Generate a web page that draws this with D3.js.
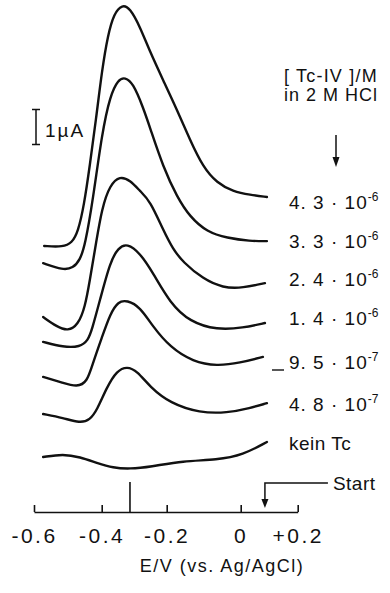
<!DOCTYPE html>
<html>
<head>
<meta charset="utf-8">
<script src="https://cdn.jsdelivr.net/npm/d3@7"></script>
<style>
body { margin: 0; background: #fff; }
text { font-family: "Liberation Sans", Arial, sans-serif; fill: #111; }
</style>
</head>
<body>
<svg width="390" height="593"></svg>
<script>
// differential pulse polarograms, Tc(IV) in 2 M HCl
// each curve: [E in V vs Ag/AgCl, current in uA incl. the vertical offset of the trace]
var curve43 = [[-0.570,7.60],[-0.514,7.57],[-0.488,7.69],[-0.470,8.00],[-0.452,8.77],[-0.435,9.91],
  [-0.417,11.20],[-0.399,12.63],[-0.381,13.63],[-0.362,14.25],[-0.337,14.50],[-0.313,14.40],
  [-0.282,13.86],[-0.251,13.14],[-0.211,12.34],[-0.172,11.49],[-0.137,10.63],[-0.102,9.86],
  [-0.064,9.40],[-0.021,9.16],[0.033,9.06],[0.092,9.00]];
var curve33 = [[-0.573,7.11],[-0.514,6.91],[-0.485,6.97],[-0.464,7.20],[-0.449,7.63],[-0.426,8.91],
  [-0.399,10.83],[-0.374,11.90],[-0.349,12.36],[-0.328,12.42],[-0.304,12.26],[-0.273,11.57],
  [-0.251,10.97],[-0.211,9.86],[-0.172,9.00],[-0.137,8.43],[-0.091,8.00],[-0.037,7.83],
  [0.033,7.74],[0.092,7.74]];
var curve24 = [[-0.573,5.57],[-0.532,5.29],[-0.500,5.17],[-0.470,5.34],[-0.449,5.86],[-0.435,6.63],
  [-0.420,7.49],[-0.399,8.71],[-0.374,9.35],[-0.344,9.60],[-0.313,9.48],[-0.282,9.17],
  [-0.251,8.89],[-0.211,8.06],[-0.183,7.51],[-0.156,7.14],[-0.102,6.66],[-0.048,6.40],
  [0.008,6.40],[0.085,6.54]];
var curve14 = [[-0.573,4.86],[-0.514,4.71],[-0.464,4.71],[-0.440,4.91],[-0.429,5.20],[-0.405,6.06],
  [-0.374,7.15],[-0.349,7.55],[-0.322,7.68],[-0.282,7.40],[-0.242,6.83],[-0.191,5.97],
  [-0.137,5.43],[-0.064,5.20],[0.008,5.26],[0.085,5.40]];
var curve095 = [[-0.573,3.86],[-0.514,3.69],[-0.473,3.57],[-0.443,3.71],[-0.426,4.26],[-0.399,5.00],
  [-0.374,5.66],[-0.349,6.02],[-0.322,6.05],[-0.282,5.86],[-0.242,5.29],[-0.191,4.71],
  [-0.129,4.29],[-0.064,4.17],[-0.002,4.26],[0.078,4.43]];
var curve048 = [[-0.573,2.80],[-0.514,2.69],[-0.464,2.54],[-0.435,2.63],[-0.414,2.91],[-0.384,3.57],
  [-0.353,4.04],[-0.322,4.16],[-0.291,4.03],[-0.251,3.57],[-0.191,3.11],[-0.110,2.83],
  [-0.037,2.83],[0.033,2.97],[0.092,3.11]];
var curveBlank = [[-0.573,1.57],[-0.514,1.66],[-0.464,1.57],[-0.414,1.40],[-0.365,1.26],[-0.313,1.23],
  [-0.251,1.29],[-0.156,1.46],[-0.064,1.49],[0.008,1.63],[0.092,2.00]];

var curves = [curve43, curve33, curve24, curve14, curve095, curve048, curveBlank];
var concMantissa = ["4.3", "3.3", "2.4", "1.4", "9.5", "4.8"];
var concExponent = ["-6", "-6", "-6", "-6", "-7", "-7"];
var blankLabel = "kein Tc";

var tickValues = [-0.6, -0.4, -0.2, 0, 0.2];
var tickLabels = ["-0.6", "-0.4", "-0.2", "0", "+0.2"];
var peakPotential = -0.313;   // marked peak potential
var startPotential = 0.085;   // scan start
var scaleBarBase = 10.5;      // uA, 1 uA bar

function main() {
  var svg = d3.select("svg");

  // hand drawn axis, ticks not quite evenly spaced
  var x = d3.scaleLinear()
    .domain(tickValues)
    .range([34, 101.7, 166.7, 240.7, 297.7]);
  var y = d3.scaleLinear()
    .domain([0, 14.6])
    .range([512, 1]);

  var line = d3.line()
    .x(function(d) { return x(d[0]); })
    .y(function(d) { return y(d[1]); })
    .curve(d3.curveBasis);

  svg.append("g")
    .selectAll("path")
    .data(curves)
    .enter().append("path")
    .attr("d", line)
    .attr("fill", "none")
    .attr("stroke", "#111")
    .attr("stroke-width", 2.4)
    .attr("stroke-linecap", "round");

  // x axis, ticks pointing up
  var axis = svg.append("g")
    .attr("transform", "translate(0,512)")
    .call(d3.axisBottom(x)
      .tickValues(tickValues)
      .tickSizeInner(-7)
      .tickSizeOuter(0)
      .tickPadding(16)
      .tickFormat(function(d, i) { return tickLabels[i]; }));
  axis.select(".domain").attr("stroke", "#111").attr("stroke-width", 1.6);
  axis.selectAll(".tick line").attr("stroke", "#111").attr("stroke-width", 1.6);
  axis.selectAll(".tick text")
    .attr("font-size", 21)
    .attr("letter-spacing", 2.5)
    .attr("font-family", "Liberation Sans, Arial, sans-serif")
    .attr("fill", "#111");

  svg.append("text")
    .attr("x", 222)
    .attr("y", 572)
    .attr("text-anchor", "middle")
    .attr("font-size", 18)
    .attr("letter-spacing", 1.5)
    .text("E/V (vs. Ag/AgCl)");

  // peak marker
  svg.append("line")
    .attr("x1", x(peakPotential)).attr("x2", x(peakPotential))
    .attr("y1", 482).attr("y2", 512)
    .attr("stroke", "#111").attr("stroke-width", 1.6);

  // start arrow
  var sx = x(startPotential);
  svg.append("path")
    .attr("d", "M" + (sx + 63) + ",483 H" + sx + " V505")
    .attr("fill", "none").attr("stroke", "#111").attr("stroke-width", 1.5);
  svg.append("path")
    .attr("d", "M" + (sx - 3.5) + ",499 L" + sx + ",508 L" + (sx + 3.5) + ",499 Z")
    .attr("fill", "#111");
  svg.append("text")
    .attr("x", sx + 68).attr("y", 490)
    .attr("font-size", 19)
    .attr("letter-spacing", 0.5)
    .text("Start");

  // 1 uA scale bar
  var sb = svg.append("g").attr("stroke", "#111").attr("stroke-width", 1.5);
  sb.append("line").attr("x1", 36).attr("x2", 36).attr("y1", y(scaleBarBase)).attr("y2", y(scaleBarBase + 1));
  sb.append("line").attr("x1", 32).attr("x2", 40).attr("y1", y(scaleBarBase)).attr("y2", y(scaleBarBase));
  sb.append("line").attr("x1", 32).attr("x2", 40).attr("y1", y(scaleBarBase + 1)).attr("y2", y(scaleBarBase + 1));
  svg.append("text")
    .attr("x", 45).attr("y", 137)
    .attr("font-size", 19)
    .attr("letter-spacing", 2)
    .text("1\u00b5A");

  // legend header
  svg.append("text").attr("x", 284).attr("y", 82)
    .attr("font-size", 18).attr("letter-spacing", 1.2)
    .text("[ Tc-IV ]/M");
  svg.append("text").attr("x", 284).attr("y", 101)
    .attr("font-size", 18).attr("letter-spacing", 1)
    .text("in 2 M HCl");
  svg.append("line").attr("x1", 336).attr("x2", 336).attr("y1", 135).attr("y2", 162)
    .attr("stroke", "#111").attr("stroke-width", 1.5);
  svg.append("path").attr("d", "M332.5,157 L336,167 L339.5,157 Z").attr("fill", "#111");

  // concentration labels next to the trace ends
  var labelBaselines = [209, 248, 286, 325, 369, 411, 450];
  var lab = svg.append("g")
    .selectAll("text")
    .data(concMantissa)
    .enter().append("text")
    .attr("x", 289)
    .attr("y", function(d, i) { return labelBaselines[i]; })
    .attr("font-size", 19)
    .attr("letter-spacing", 1);
  lab.append("tspan").text(function(d) { return d.replace(".", ". ") + " \u00b7 10"; });
  lab.append("tspan")
    .attr("dy", -8)
    .attr("font-size", 12)
    .attr("letter-spacing", 0)
    .text(function(d, i) { return concExponent[i]; });

  svg.append("line").attr("x1", 272).attr("x2", 284)
    .attr("y1", labelBaselines[4] + 1).attr("y2", labelBaselines[4] + 1)
    .attr("stroke", "#111").attr("stroke-width", 1.4);

  svg.append("text")
    .attr("x", 289).attr("y", labelBaselines[6])
    .attr("font-size", 19)
    .attr("letter-spacing", 0.5)
    .text(blankLabel);
}
main();
</script>
</body>
</html>
